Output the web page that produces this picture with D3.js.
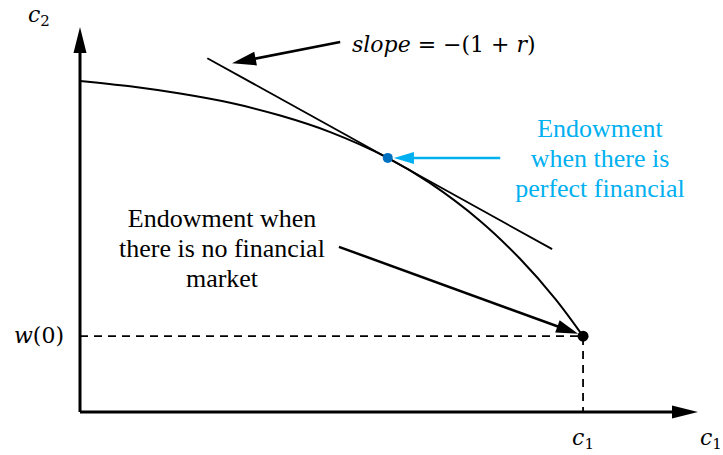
<html>
<head>
    <script src='https://d3js.org/d3.v7.min.js'></script>
</head>

<body>
    <script>

        // intertemporal endowment curve, c1 and c2 on a 0-100 scale
        const curveC1 = [0, 8.1, 16.2, 24.3, 32.4, 40.5, 49.8, 56.6, 64.7, 71.2, 76.9, 81.4];
        const curveC2 = [86.0, 84.6, 82.7, 80.3, 77.0, 72.7, 66.0, 59.5, 49.7, 39.8, 29.4, 19.7];

        // tangent line (slope = -(1+r)) end points
        const tangentC1 = [20.6, 76.4];
        const tangentC2 = [91.9, 42.3];

        // endowment points: [perfect market, no market]
        const endowC1 = [49.8, 81.4];
        const endowC2 = [66.0, 19.7];

        // annotation arrows: from -> to
        const slopeArrow = { from: [42.1, 96.1], to: [24.6, 90.6] };
        const blueArrow = { from: [68.0, 66.0], to: [50.8, 66.0] };
        const blackArrow = { from: [41.9, 42.9], to: [80.6, 20.3] };

        const perfectLabel = ["Endowment", "when there is", "perfect financial"];
        const noMarketLabel = ["Endowment when", "there is no financial", "market"];

        const width = 723;
        const height = 455;
        const blue = "#00b0f0";

        d3.select("body").style("margin", "0px");

        const svg = d3.select("body").append("svg")
            .attr("width", width)
            .attr("height", height);

        // text first, the same way as a plain label list
        svg.selectAll(".perfect")
            .data(perfectLabel)
            .join("text")
            .attr("class", "perfect")
            .attr("x", 600)
            .attr("y", (d, i) => 137 + i * 30)
            .attr("font-size", 26)
            .style("font-family", d => `"Liberation Serif"`)
            .attr("text-anchor", "middle")
            .style("fill", blue)
            .text(d => d);

        svg.selectAll(".nomarket")
            .data(noMarketLabel)
            .join("text")
            .attr("class", "nomarket")
            .attr("x", 222)
            .attr("y", (d, i) => 227 + i * 30)
            .attr("font-size", 26)
            .style("font-family", d => `"Liberation Serif"`)
            .attr("text-anchor", "middle")
            .text(d => d);

        // scales
        const x = d3.scaleLinear().domain([0, 100]).range([80, 698]);
        const y = d3.scaleLinear().domain([0, 100]).range([412, 27]);

        // draws a line with a filled arrow head at the "to" end
        function arrow(from, to, color, sw, headLen, headHalf) {
            const x1 = x(from[0]), y1 = y(from[1]);
            const x2 = x(to[0]), y2 = y(to[1]);
            const a = Math.atan2(y2 - y1, x2 - x1);
            const bx = x2 - headLen * Math.cos(a), by = y2 - headLen * Math.sin(a);
            svg.append("line")
                .attr("x1", x1).attr("y1", y1)
                .attr("x2", bx + 2 * Math.cos(a)).attr("y2", by + 2 * Math.sin(a))
                .attr("stroke", color)
                .attr("stroke-width", sw);
            const px = -Math.sin(a) * headHalf, py = Math.cos(a) * headHalf;
            svg.append("path")
                .attr("d", `M${x2},${y2}L${bx + px},${by + py}L${bx - px},${by - py}Z`)
                .attr("fill", color);
        }

        // dashed guides to the axes
        svg.append("path")
            .attr("d", `M${x(0)},${y(endowC2[1])}H${x(endowC1[1])}V${y(0)}`)
            .attr("fill", "none")
            .attr("stroke", "black")
            .attr("stroke-width", 1.8)
            .attr("stroke-dasharray", "8,6");

        // axes
        arrow([0, 0], [0, 100], "black", 3, 26, 6.5);
        arrow([0, 0], [100, 0], "black", 3, 26, 6.5);

        // the curve
        svg.append("path")
            .datum(d3.zip(curveC1, curveC2))
            .attr("fill", "none")
            .attr("stroke", "black")
            .attr("stroke-width", 2)
            .attr("d", d3.line()
                .x(d => x(d[0]))
                .y(d => y(d[1]))
                .curve(d3.curveCatmullRom.alpha(0.5)));

        // tangent line
        svg.append("line")
            .attr("x1", x(tangentC1[0])).attr("y1", y(tangentC2[0]))
            .attr("x2", x(tangentC1[1])).attr("y2", y(tangentC2[1]))
            .attr("stroke", "black")
            .attr("stroke-width", 1.8);

        // annotation arrows
        arrow(slopeArrow.from, slopeArrow.to, "black", 2.5, 24, 7);
        arrow(blueArrow.from, blueArrow.to, blue, 2.5, 20, 6);
        arrow(blackArrow.from, blackArrow.to, "black", 2.5, 22, 6.5);

        // endowment dots
        svg.append("circle")
            .attr("cx", x(endowC1[0])).attr("cy", y(endowC2[0])).attr("r", 5)
            .attr("fill", "#0070c0");
        svg.append("circle")
            .attr("cx", x(endowC1[1])).attr("cy", y(endowC2[1])).attr("r", 5.5)
            .attr("fill", "black");

        // math labels: one text, pieces as tspans
        function mathLabel(xp, yp, parts) {
            const t = svg.append("text")
                .attr("x", xp).attr("y", yp)
                .attr("font-size", 22)
                .style("font-family", `"DejaVu Serif"`);
            parts.forEach(p => {
                const s = t.append("tspan").text(p.t)
                    .attr("font-size", p.sub ? 15 : 22)
                    .style("font-family", `"DejaVu Serif"`)
                    .style("font-style", p.i ? "italic" : "normal");
                if (p.dy) s.attr("dy", p.dy);
            });
        }

        mathLabel(28, 22, [{ t: "c", i: true }, { t: "2", sub: true, dy: 4 }]);
        mathLabel(14, 343, [{ t: "w", i: true }, { t: "(0)" }]);
        mathLabel(x(endowC1[1]) - 11, 445, [{ t: "c", i: true }, { t: "1", sub: true, dy: 4 }]);
        mathLabel(700, 445, [{ t: "c", i: true }, { t: "1", sub: true, dy: 4 }]);
        mathLabel(352, 52, [{ t: "slope", i: true }, { t: " = \u2212(1 + " }, { t: "r", i: true }, { t: ")" }]);

    </script>
</body>

</html>
